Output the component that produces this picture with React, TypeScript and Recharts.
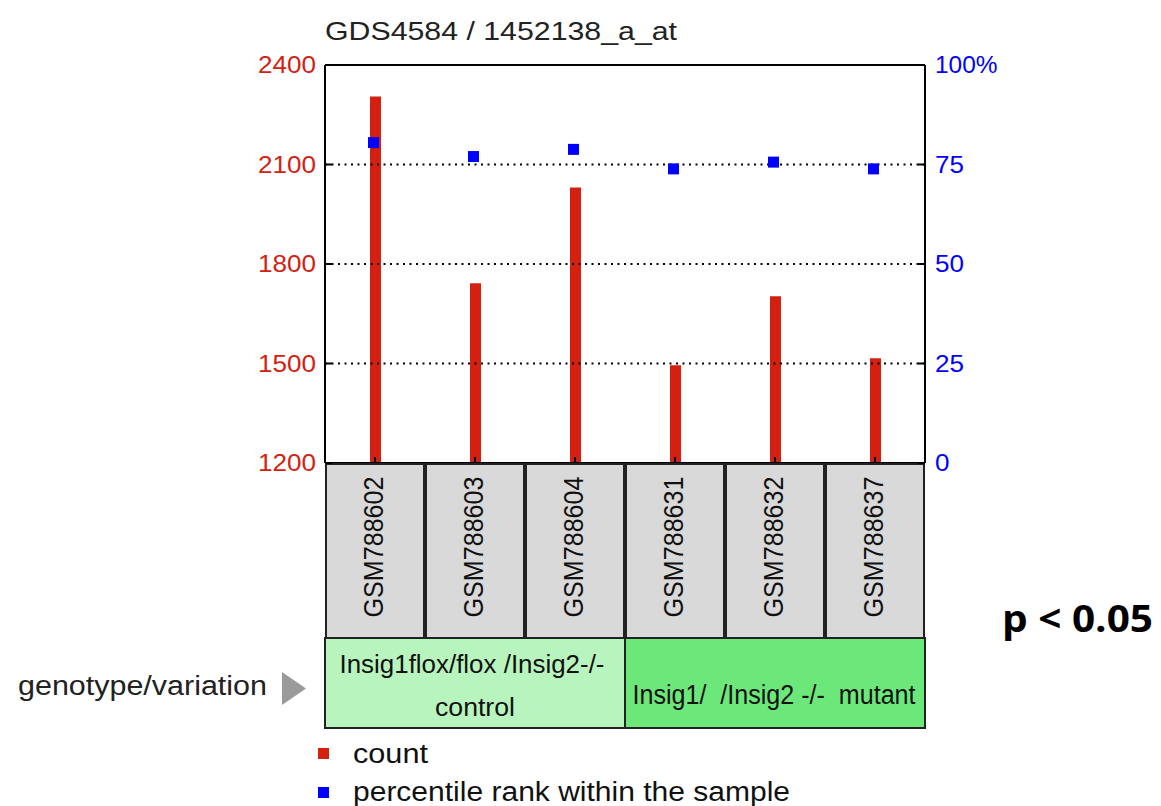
import React from 'react';
import {
  ComposedChart,
  Bar,
  Line,
  XAxis,
  YAxis,
  ReferenceLine,
  Legend,
} from 'recharts';

// ---- data ----
const samples = ['GSM788602', 'GSM788603', 'GSM788604', 'GSM788631', 'GSM788632', 'GSM788637'];
const counts = [2305, 1742, 2031, 1495, 1703, 1516];
const percentiles = [80.5, 77.0, 78.8, 73.9, 75.6, 73.9];
const leftTicks = [1200, 1500, 1800, 2100, 2400];
const rightTicks = [0, 25, 50, 75, 100];
const gridValues = [1500, 1800, 2100];
const groupLabels = [['Insig1flox/flox /Insig2-/-', 'control'], ['Insig1/  /Insig2 -/-  mutant']];
const groupStarts = [0, 3];
const groupSizes = [3, 3];
const title = 'GDS4584 / 1452138_a_at';
const rowLabel = 'genotype/variation';
const pLabel = 'p < 0.05';

const data = samples.map((s, i) => ({ sample: s, count: counts[i], pct: percentiles[i] }));

const RED = '#d42010';
const BLUE = '#0000ff';
const FONT = '"Liberation Sans", Arial, sans-serif';

const LeftTick = (props: any) => {
  const { x, y, payload } = props;
  const ax = x + 9;
  return (
    <g>
      <line x1={ax} x2={ax + 7} y1={y} y2={y} stroke="#000" strokeWidth={2} />
      <text x={x} y={y} dy={8} textAnchor="end" fill={RED} fontFamily={FONT} fontSize={23}
        textLength={String(payload.value).length * 14.5} lengthAdjust="spacingAndGlyphs">
        {payload.value}
      </text>
    </g>
  );
};

const RightTick = (props: any) => {
  const { x, y, payload } = props;
  const ax = x - 10;
  const label = payload.value === 100 ? '100%' : String(payload.value);
  const w = String(payload.value).length * 14.5 + (payload.value === 100 ? 19 : 0);
  return (
    <g>
      <line x1={ax - 7} x2={ax} y1={y} y2={y} stroke="#000" strokeWidth={2} />
      <text x={x} y={y} dy={8} textAnchor="start" fill={BLUE} fontFamily={FONT} fontSize={23}
        textLength={w} lengthAdjust="spacingAndGlyphs">
        {label}
      </text>
    </g>
  );
};

const groupFills = ['#b8f5be', '#6ce87a'];
const groupTextLens = [[265, 80], [283]];
const SAMPLE_H = 175;
const GROUP_H = 90;

const renderGroup = (x: number, y: number, half: number, index: number) => {
  const gi = groupStarts.indexOf(index);
  if (gi < 0) return null;
  const left = x - half;
  const w = groupSizes[gi] * half * 2;
  const lines = groupLabels[gi];
  const cx = left + w / 2;
  return (
    <g>
      <rect x={left} y={y} width={w} height={GROUP_H} fill={groupFills[gi]} stroke="#222" strokeWidth={2} />
      {lines.length === 2 ? (
        <>
          <text x={cx - 3} y={y + 35} textAnchor="middle" fill="#111" fontFamily={FONT} fontSize={25}
            textLength={groupTextLens[gi][0]} lengthAdjust="spacingAndGlyphs">{lines[0]}</text>
          <text x={cx} y={y + 78} textAnchor="middle" fill="#111" fontFamily={FONT} fontSize={26}
            textLength={groupTextLens[gi][1]} lengthAdjust="spacingAndGlyphs">{lines[1]}</text>
        </>
      ) : (
        <text x={cx - 1} y={y + 66} textAnchor="middle" fill="#111" fontFamily={FONT} fontSize={27}
          xmlSpace="preserve" style={{ whiteSpace: 'pre' }}
          textLength={groupTextLens[gi][0]} lengthAdjust="spacingAndGlyphs">{lines[0]}</text>
      )}
    </g>
  );
};

const SampleTick = (props: any) => {
  const { x, y, payload } = props;
  const half = payload.offset ?? 50;
  const tx = x + 7.5;
  const ty = y + 84;
  return (
    <g>
      <rect x={x - half + 1} y={y + 1} width={half * 2 - 2} height={SAMPLE_H - 1} fill="#d9d9d9" stroke="#222" strokeWidth={2} />
      <line x1={x} x2={x} y1={y} y2={y - 6} stroke="#000" strokeWidth={2} />
      <text x={tx} y={ty} transform={`rotate(-90 ${tx} ${ty})`} textAnchor="middle" fill="#111"
        fontFamily={FONT} fontSize={27} textLength={141} lengthAdjust="spacingAndGlyphs">
        {payload.value}
      </text>
      {renderGroup(x, y + SAMPLE_H, half, payload.index)}
    </g>
  );
};

const SquareDot = (props: any) => {
  const { cx, cy, index } = props;
  if (cx == null || cy == null) return <g key={index} />;
  return <rect key={index} x={cx - 7} y={cy - 5.5} width={11} height={11} fill={BLUE} />;
};

const legendWidths: Record<string, number> = { count: 75, 'percentile rank within the sample': 437 };

const renderLegend = (props: any) => {
  const { payload } = props;
  return (
    <svg width={520} height={72} style={{ display: 'block', overflow: 'visible' }}>
      {(payload || []).map((entry: any, i: number) => (
        <g key={entry.value}>
          <rect x={8} y={10 + i * 39} width={11} height={11} fill={entry.value === 'count' ? RED : BLUE} />
          <text x={43} y={25 + i * 38} fill="#111" fontFamily={FONT} fontSize={27}
            textLength={legendWidths[entry.value]} lengthAdjust="spacingAndGlyphs">{entry.value}</text>
        </g>
      ))}
    </svg>
  );
};

export default function App() {
  return (
    <div style={{ position: 'absolute', left: 0, top: 0, width: 1161, height: 806, background: '#fff' }}>
      <ComposedChart
        width={1161}
        height={806}
        data={data}
        margin={{ top: 65, right: 0, bottom: 78, left: 0 }}
      >
        <XAxis
          xAxisId="samples"
          dataKey="sample"
          orientation="bottom"
          height={SAMPLE_H + GROUP_H}
          interval={0}
          tickSize={0}
          tickMargin={0}
          tickLine={false}
          axisLine={{ stroke: '#000', strokeWidth: 2 }}
          tick={<SampleTick />}
        />
        <YAxis
          yAxisId="left"
          orientation="left"
          width={325}
          domain={[1200, 2400]}
          ticks={leftTicks}
          interval={0}
          tickSize={0}
          tickMargin={9}
          tickLine={false}
          axisLine={{ stroke: '#000', strokeWidth: 2 }}
          tick={<LeftTick />}
        />
        <YAxis
          yAxisId="right"
          orientation="right"
          width={236}
          domain={[0, 100]}
          ticks={rightTicks}
          interval={0}
          tickSize={0}
          tickMargin={10}
          tickLine={false}
          axisLine={{ stroke: '#000', strokeWidth: 2 }}
          tick={<RightTick />}
        />
        {gridValues.map((v) => (
          <ReferenceLine key={v} xAxisId="samples" yAxisId="left" y={v} stroke="#000" strokeWidth={2} strokeDasharray="2 4.5" />
        ))}
        <ReferenceLine xAxisId="samples" yAxisId="left" y={2400} stroke="#000" strokeWidth={2} />
        <Bar
          xAxisId="samples"
          yAxisId="left"
          dataKey="count"
          name="count"
          fill={RED}
          barSize={11}
          isAnimationActive={false}
        />
        <Line
          xAxisId="samples"
          yAxisId="right"
          dataKey="pct"
          name="percentile rank within the sample"
          stroke={BLUE}
          strokeWidth={0}
          dot={<SquareDot />}
          activeDot={false}
          isAnimationActive={false}
        />
        <Legend
          layout="horizontal"
          verticalAlign="middle"
          align="center"
          content={renderLegend}
          wrapperStyle={{ left: 310, top: 738, width: 520, height: 72 }}
        />
      </ComposedChart>
      <svg width={1161} height={806} style={{ position: 'absolute', left: 0, top: 0, pointerEvents: 'none' }}>
        <text x={325} y={40} fill="#222" fontFamily={FONT} fontSize={26} textLength={352} lengthAdjust="spacingAndGlyphs">
          {title}
        </text>
        <text x={18} y={695} fill="#222" fontFamily={FONT} fontSize={27} textLength={249} lengthAdjust="spacingAndGlyphs">
          {rowLabel}
        </text>
        <polygon points="282,672 306,688.5 282,705" fill="#9a9a9a" />
        <text x={1002} y={632} fill="#000" fontFamily='"Open Sans", sans-serif' fontWeight="bold" fontSize={38}
          textLength={151} lengthAdjust="spacingAndGlyphs">
          {pLabel}
        </text>
      </svg>
    </div>
  );
}
